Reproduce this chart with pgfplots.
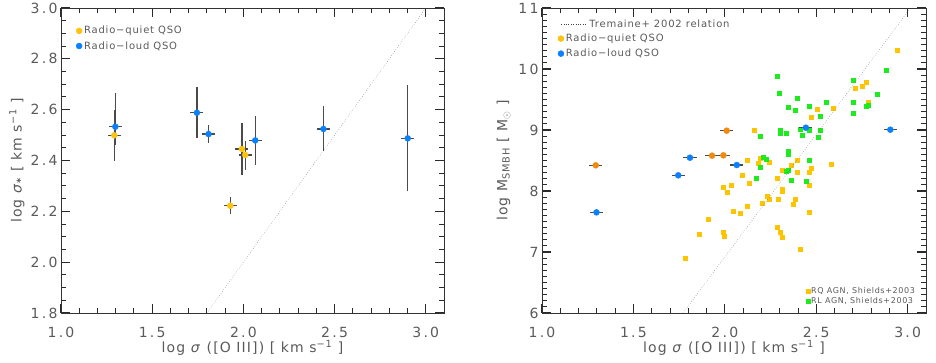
\documentclass[border=0pt]{standalone}
\usepackage{fontspec}
\setmainfont{DejaVu Sans}[LetterSpace=8]
\newfontfamily\tickfont{DejaVu Sans}[LetterSpace=16]
\usepackage{pgfplots}
\pgfplotsset{compat=1.18}
\usepackage{pgfplotstable}

\definecolor{rqy}{HTML}{FFC20E}
\definecolor{rlb}{HTML}{0A80FF}
\definecolor{rqo}{HTML}{F28A0F}
\definecolor{shy}{HTML}{FFC400}
\definecolor{shg}{HTML}{1EEB1E}
\definecolor{txt}{HTML}{5A5A5A}
\definecolor{ebar}{HTML}{4A4A4A}
\definecolor{tk}{HTML}{2A2A2A}

\pgfplotstableread{
x y ex eyp eym
1.292 2.499 0.036 0.100 0.100
1.992 2.445 0.036 0.103 0.103
2.010 2.422 0.036 0.056 0.058
1.928 2.222 0.036 0.033 0.032
}\leftRQ
\pgfplotstableread{
x y ex eyp eym
1.298 2.533 0.036 0.133 0.071
1.745 2.588 0.036 0.100 0.099
1.809 2.504 0.036 0.036 0.035
2.065 2.479 0.036 0.095 0.095
2.439 2.524 0.036 0.089 0.088
2.901 2.487 0.036 0.209 0.208
}\leftRL
\pgfplotstableread{
x y ex ey
1.294 8.421 0.036 0.035
1.930 8.579 0.036 0.035
1.992 8.585 0.036 0.035
2.010 8.989 0.036 0.045
}\rightRQ
\pgfplotstableread{
x y ex ey
1.298 7.650 0.036 0.030
1.745 8.257 0.036 0.030
1.809 8.546 0.036 0.030
2.065 8.426 0.036 0.030
2.443 9.038 0.036 0.040
2.905 9.005 0.036 0.030
}\rightRL
\pgfplotstableread{
x y
2.943 10.30
2.715 9.689
2.753 9.721
2.773 9.776
2.783 9.454
2.593 9.350
2.503 9.333
2.472 9.213
2.163 8.989
2.120 8.497
2.193 8.536
2.182 8.448
2.242 8.470
2.096 8.251
2.134 8.120
1.992 8.066
2.034 8.093
2.012 7.978
2.284 8.202
2.315 8.333
2.363 8.421
2.394 8.508
2.394 8.301
2.463 8.311
2.474 8.366
2.463 8.098
2.582 8.437
2.313 8.033
2.313 7.995
2.234 7.913
2.243 7.869
2.293 7.869
2.202 7.798
2.384 7.858
2.373 7.781
2.123 7.749
2.043 7.661
2.083 7.634
2.463 7.650
1.911 7.541
1.992 7.328
1.994 7.257
2.284 7.404
2.302 7.328
2.313 7.246
1.862 7.290
2.412 7.038
1.782 6.896
}\shieldsRQ
\pgfplotstableread{
x y
2.284 9.880
2.295 9.601
2.394 9.519
2.344 9.372
2.384 9.317
2.463 9.388
2.554 9.459
2.521 9.230
2.302 8.995
2.302 8.940
2.333 8.945
2.193 8.896
2.412 9.011
2.423 8.918
2.463 8.995
2.521 8.995
2.512 8.880
2.344 8.650
2.344 8.601
2.211 8.557
2.225 8.514
2.191 8.388
2.171 8.202
2.335 8.317
2.344 8.339
2.463 8.508
2.363 8.169
2.445 8.158
2.704 9.820
2.883 9.973
2.704 9.448
2.704 9.268
2.832 9.590
2.772 9.393
2.783 9.404
}\shieldsRL

\pgfplotsset{
  idl/.style={
    scale only axis, width=383pt, height=305pt,
    xmin=1.0, xmax=3.1,
    xtick={1,1.5,2,2.5,3}, minor x tick num=4,
    xtick pos=both, ytick pos=both, axis on top,
    tick align=inside, major tick length=9pt, minor tick length=5pt,
    major tick style={tk, line width=1.2pt},
    minor tick style={tk, line width=1pt},
    axis line style={black!80, line width=0.9pt},
    ticklabel style={font=\tickfont\fontsize{14}{16}\selectfont, text=txt},
    label style={font=\fontsize{14}{16}\selectfont, text=txt},
    /pgf/number format/assume math mode=true,
    xticklabel style={yshift=-11pt, /pgf/number format/.cd, fixed, fixed zerofill, precision=1},
    xlabel style={at={(axis description cs:0.5,-0.115)}, anchor=center},
    legend cell align=left,
    legend style={draw=none, fill=none, font=\fontsize{10}{11}\selectfont, text=txt, inner sep=0pt, row sep=2pt},
  },
  dotimg/.style={legend image code/.code={\draw[mark repeat=2,mark phase=2,##1] plot coordinates {(0pt,0pt) (3pt,0pt) (6pt,0pt)};}},
  ebars/.style={
    error bars/x dir=both, error bars/x explicit, error bars/y dir=both, error bars/y explicit,
    error bars/error mark=none, error bars/error bar style={ebar, line width=1.4pt}
  },
  hid/.style={idl, hide axis}
}

\begin{document}
\begin{tikzpicture}
\useasboundingbox (0,0) rectangle (936pt,363pt);
% ---------------- left panel
\begin{axis}[idl, dotimg, at={(61pt,50pt)}, anchor=south west,
  ymin=1.8, ymax=3.0, ytick={1.8,2.0,2.2,2.4,2.6,2.8,3.0}, minor y tick num=3,
  yticklabel style={/pgf/number format/.cd, fixed, fixed zerofill, precision=1},
  xlabel={log \textit{σ} ([O III]) [ km s\textsuperscript{−1} ]},
  ylabel={log \textit{σ}\textsubscript{\textbf{*}} [ km s\textsuperscript{−1} ]},
  ylabel style={at={(axis description cs:-0.115,0.5)}, anchor=center},
  legend style={at={(axis description cs:0.039,0.947)}, anchor=north west}]
\addplot[black!75, dotted, forget plot] coordinates {(1.8,1.8) (3.0,3.0)};
\addplot[only marks, mark=*, mark size=3pt, color=rqy, ebars]
  table[x=x, y=y, x error=ex, y error plus=eyp, y error minus=eym] {\leftRQ};
\addlegendentry{Radio−quiet QSO}
\addplot[only marks, mark=*, mark size=3pt, color=rlb, ebars]
  table[x=x, y=y, x error=ex, y error plus=eyp, y error minus=eym] {\leftRL};
\addlegendentry{Radio−loud QSO}
\end{axis}
% ---------------- right panel: Shields+2003 (under)
\begin{axis}[hid, dotimg, at={(542pt,50pt)}, anchor=south west, width=384pt,
  ymin=6, ymax=11,
  legend style={at={(axis description cs:0.975,0.02)}, anchor=south east, row sep=0pt,
    font=\fontsize{8}{9}\selectfont, nodes={inner sep=1.3pt}}]
\addplot[only marks, mark=square*, mark size=2pt, color=shy] table {\shieldsRQ};
\addlegendentry{RQ AGN, Shields+2003}
\addplot[only marks, mark=square*, mark size=2pt, color=shg] table {\shieldsRL};
\addlegendentry{RL AGN, Shields+2003}
\end{axis}
% Tremaine relation
\begin{axis}[hid, at={(542pt,50pt)}, anchor=south west, width=384pt,
  ymin=6, ymax=11,
  legend image code/.code={\draw[#1] (0pt,0pt) -- (26pt,0pt);},
  legend style={at={(axis description cs:0.049,0.968)}, anchor=north west}]
\addplot[black!75, dotted] coordinates {(1.771,6) (3.015,11)};
\addlegendentry{Tremaine+ 2002 relation}
\end{axis}
% main right axis
\begin{axis}[idl, dotimg, at={(542pt,50pt)}, anchor=south west, width=384pt,
  ymin=6, ymax=11, ytick={6,7,8,9,10,11}, minor y tick num=9,
  xlabel={log \textit{σ} ([O III]) [ km s\textsuperscript{−1} ]},
  ylabel={log M\textsubscript{SMBH} [ M$_\odot$ ]},
  ylabel style={at={(axis description cs:-0.10,0.5)}, anchor=center},
  legend style={at={(axis description cs:0.041,0.922)}, anchor=north west}]
\addlegendimage{only marks, mark=*, mark size=3pt, color=rqy}
\addlegendentry{Radio−quiet QSO}
\addlegendimage{only marks, mark=*, mark size=3pt, color=rlb}
\addlegendentry{Radio−loud QSO}
\addplot[only marks, mark=*, mark size=3pt, color=rqo, forget plot, ebars]
  table[x=x, y=y, x error=ex, y error=ey] {\rightRQ};
\addplot[only marks, mark=*, mark size=3pt, color=rlb, forget plot, ebars]
  table[x=x, y=y, x error=ex, y error=ey] {\rightRL};
\end{axis}
\end{tikzpicture}
\end{document}
